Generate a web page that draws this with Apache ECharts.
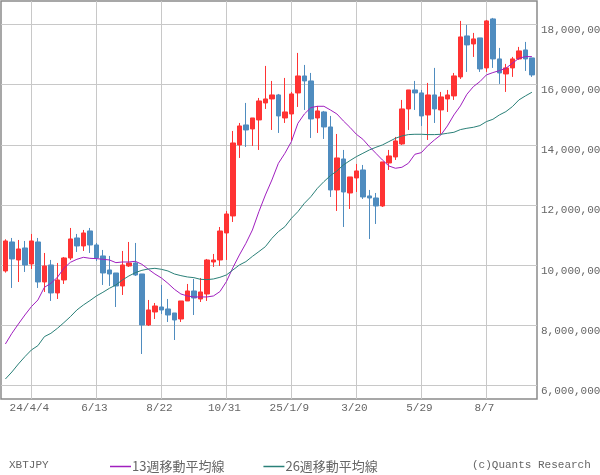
<!DOCTYPE html>
<html><head><meta charset="utf-8">
<style>html,body{margin:0;padding:0;background:#fff}#c{width:600px;height:475px}</style>
<script src="https://cdn.jsdelivr.net/npm/echarts@6/dist/echarts.min.js"></script>
</head><body><div id="c"></div>
<script>
// Weekly categories
const categories = ['3/7','3/14','3/21','3/28','24/4/4','4/11','4/18','4/25','5/2','5/9','5/16','5/23','5/30','6/6','6/13','6/20','6/27','7/4','7/11','7/18','7/25','8/1','8/8','8/15','8/22','8/29','9/5','9/12','9/19','9/26','10/3','10/10','10/17','10/24','10/31','11/7','11/14','11/21','11/28','12/5','12/12','12/19','12/26','1/2','25/1/9','1/16','1/23','1/30','2/6','2/13','2/20','2/27','3/6','3/13','3/20','3/27','4/3','4/10','4/17','4/24','5/1','5/8','5/15','5/22','5/29','6/5','6/12','6/19','6/26','7/3','7/10','7/17','7/24','7/31','8/7','8/14','8/21','8/28','9/4','9/11','9/18','9/25'];
// Prices in thousand yen
const opens = [9806,10770,10172,10570,10039,10770,9440,10005,9075,9507,10238,10903,10637,11136,10670,10305,9839,9739,9307,9972,10072,9706,8011,8443,8609,8543,8410,8210,8809,9141,8875,9041,10105,10171,11069,11634,13994,14659,14526,14825,15390,15523,15656,14891,15024,15722,16287,16121,14891,15091,14592,12498,13528,12398,12897,13163,12299,12232,11966,13395,13595,14027,15191,15822,15723,14991,15656,15158,15523,15623,16255,17617,17351,17551,16554,18182,16853,16354,16554,16853,17152,16886];
const closes = [10803,10205,10537,10005,10803,9440,9972,9075,9507,10238,10870,10637,11069,10670,10238,9739,9706,9307,10005,10072,9673,8011,8510,8642,8510,8343,8177,8809,9141,8908,9108,10171,10171,11135,11700,14060,14625,14492,14891,15456,15523,15656,14958,15091,15689,16287,16121,14858,15124,14592,12498,13562,12431,12930,13130,12265,12232,11966,13429,13628,14127,15191,15822,15723,14958,15656,15191,15590,15656,16288,17584,17318,17518,16520,18116,16853,16387,16554,16853,17119,16853,16321];
const lows = [9751,9241,9440,9773,9872,9241,9108,8809,8875,9374,10172,10438,10471,10404,10138,9341,9307,8609,9008,9939,9640,7047,7978,8210,8377,8111,7512,8111,8809,8343,8775,8809,9939,9972,10171,11434,13562,13927,13961,13828,15190,14492,14393,14725,14127,15257,15157,14226,14393,14193,12265,11800,11268,11866,12431,12199,10869,11368,11933,13163,13495,13994,14493,15158,14626,14160,14725,14360,15091,15490,16188,16421,16919,16421,16421,16554,16022,15756,16255,16820,16454,16255];
const highs = [10859,10903,10836,10803,11036,10903,10404,10172,10072,10271,11235,11036,11169,11235,10737,10504,10305,9739,10471,10770,10737,9706,8842,8742,9341,8875,8410,8809,9374,9540,9573,10205,10371,11268,11800,14459,14725,15390,14891,15556,16620,16121,15689,16221,15756,17052,16653,16387,15290,15124,14958,14359,13828,12930,13362,13329,12498,12398,13429,13828,14260,15490,15822,16122,15822,16055,16554,15756,15822,16387,18116,17983,17717,17551,18149,18216,17218,16687,16919,17252,17418,16886];
const ma13 = [7379,7734,8044,8343,8620,8842,9263,9396,9595,9895,10094,10194,10260,10227,10216,10194,10172,10083,10105,10105,10127,10028,9861,9706,9573,9396,9197,9041,8975,8942,8942,8942,8975,9119,9451,9917,10338,10725,11168,11778,12332,12830,13384,13717,14105,14714,15024,15235,15279,15279,15157,15024,14792,14581,14348,14182,13938,13717,13495,13296,13219,13252,13385,13684,13739,13972,14160,14327,14626,14991,15291,15678,15933,16099,16321,16399,16465,16543,16709,16875,16930,16930];
const ma26 = [6216,6449,6715,6958,7180,7324,7623,7734,7900,8089,8288,8510,8676,8820,8975,9097,9230,9341,9507,9640,9751,9828,9872,9894,9861,9806,9706,9651,9607,9584,9529,9518,9540,9595,9673,9839,10005,10116,10290,10450,10614,10891,11113,11279,11556,11778,12055,12276,12553,12775,12974,13130,13329,13473,13606,13717,13828,13916,13994,14105,14215,14293,14338,14349,14349,14338,14338,14349,14382,14415,14504,14548,14581,14637,14770,14847,14991,15102,15268,15490,15623,15745];
const yTicks = [6000,8000,10000,12000,14000,16000,18000];
const yTickLabels = ['6,000,000','8,000,000','10,000,000','12,000,000','14,000,000','16,000,000','18,000,000'];
const seriesNames = ['13週移動平均線','26週移動平均線'];
const symbolText = 'XBTJPY';
const creditText = '(c)Quants Research';

const GRAY = '#666666', GRID = '#c8c8c8', FRAME = '#8a8a8a';
const RED = '#ff3333', BLUE = '#4f8cbf', PURPLE = '#a01fbf', TEAL = '#2a8078';
const MONO = '"Liberation Mono", monospace';
const JP = '"Noto Sans CJK JP", sans-serif';
const yMin = 5551, yMax = 18778;
const isLabeled = i => i % 10 === 4;

const chart = echarts.init(document.getElementById('c'), null, {renderer: 'canvas'});
chart.setOption({
  animation: false,
  backgroundColor: '#fff',
  title: [
    {text: symbolText, left: 4, top: 455, textStyle: {fontFamily: MONO, fontSize: 11, fontWeight: 'normal', color: GRAY}},
    {text: creditText, left: 467, top: 455, textStyle: {fontFamily: MONO, fontSize: 11, fontWeight: 'normal', color: GRAY}}
  ],
  legend: {
    left: 105, top: 455, itemWidth: 21, itemHeight: 1.5, itemGap: 39, icon: 'rect',
    data: seriesNames.map(n => ({name: n})),
    textStyle: {fontFamily: JP, fontSize: 13, color: GRAY, padding: [0, 0, 0, -4]}
  },
  grid: [
    {left: 1, top: 1, width: 536, height: 398, show: true, borderColor: FRAME, borderWidth: 1.5, backgroundColor: '#fff', outerBoundsMode: 'none'},
    {left: 2.15, top: 1, width: 533, height: 398, outerBoundsMode: 'none'}
  ],
  xAxis: [
    {gridIndex: 0, type: 'value', min: 0, max: 1, show: false},
    {gridIndex: 1, type: 'category', data: categories, boundaryGap: true,
      axisLine: {show: false},
      axisTick: {show: false, alignWithLabel: true, interval: (i) => isLabeled(i)},
      splitLine: {show: true, alignWithLabel: true, interval: (i) => isLabeled(i), lineStyle: {color: GRID, width: 1}},
      axisLabel: {interval: (i) => isLabeled(i), fontFamily: MONO, fontSize: 11, color: GRAY, margin: 4, padding: [0, 4, 0, 0]}}
  ],
  yAxis: [
    {gridIndex: 0, type: 'value', position: 'right', min: yMin, max: yMax,
      axisLine: {show: false},
      axisTick: {show: false, customValues: yTicks},
      splitLine: {show: true, lineStyle: {color: GRID, width: 1}},
      axisLabel: {customValues: yTicks, margin: 4, align: 'left', verticalAlign: 'top', fontFamily: MONO, fontSize: 11, color: GRAY,
        formatter: v => yTickLabels[yTicks.indexOf(v)]}},
    {gridIndex: 1, type: 'value', min: yMin, max: yMax, show: false, splitLine: {show: false}}
  ],
  series: [
    {type: 'candlestick', name: 'XBTJPY', xAxisIndex: 1, yAxisIndex: 1, barWidth: 5,
      data: categories.map((c, i) => [opens[i], closes[i], lows[i], highs[i]]),
      itemStyle: {color: RED, color0: BLUE, borderColor: RED, borderColor0: BLUE, borderWidth: 1}},
    {type: 'line', name: seriesNames[0], xAxisIndex: 1, yAxisIndex: 1, data: ma13, showSymbol: false, symbol: 'none',
      lineStyle: {color: PURPLE, width: 1}, itemStyle: {color: PURPLE}, z: 5},
    {type: 'line', name: seriesNames[1], xAxisIndex: 1, yAxisIndex: 1, data: ma26, showSymbol: false, symbol: 'none',
      lineStyle: {color: TEAL, width: 1}, itemStyle: {color: TEAL}, z: 5}
  ]
});
</script></body></html>
